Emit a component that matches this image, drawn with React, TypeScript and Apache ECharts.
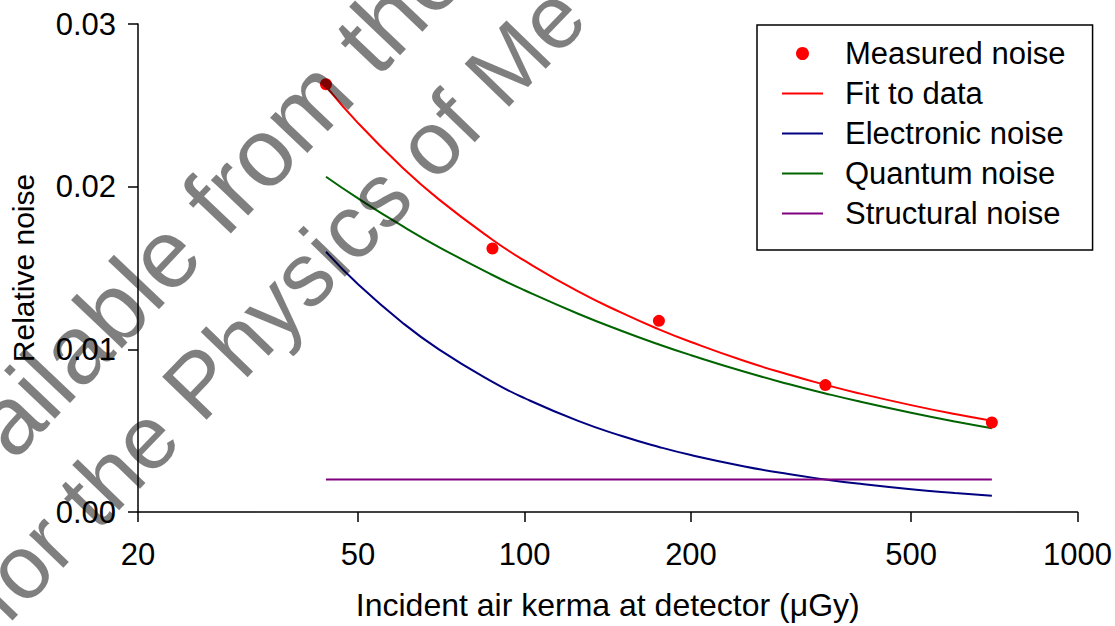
import React, { useEffect, useRef } from "react";
import * as echarts from "echarts";

// Incident air kerma (µGy) of the measured points
const measuredKerma = [43.75, 87.5, 175, 350, 700];
const measuredNoise = [0.0263, 0.0162, 0.01175, 0.0078, 0.0055];

const curveKerma = [43.75, 50, 60, 70, 87.5, 100, 125, 150, 175, 200, 250, 300, 350, 400, 500, 600, 700];
const fitNoise = [0.02617, 0.02391, 0.02121, 0.01922, 0.01674, 0.01545, 0.01356, 0.01224, 0.01123, 0.01045, 0.00928, 0.00845, 0.00782, 0.00732, 0.00657, 0.00602, 0.00561];
const electronicNoise = [0.016, 0.014, 0.01167, 0.01, 0.008, 0.007, 0.0056, 0.00467, 0.004, 0.0035, 0.0028, 0.00233, 0.002, 0.00175, 0.0014, 0.00117, 0.001];
const quantumNoise = [0.02061, 0.01928, 0.0176, 0.01629, 0.01457, 0.01363, 0.01219, 0.01113, 0.0103, 0.00964, 0.00862, 0.00787, 0.00729, 0.00682, 0.0061, 0.00556, 0.00515];
const structuralKerma = [43.75, 700];
const structuralNoise = [0.002, 0.002];

const xTicks = [20, 50, 100, 200, 500, 1000];
const seriesNames = ["Measured noise", "Fit to data", "Electronic noise", "Quantum noise", "Structural noise"];
const watermarkLines = ["vailable from the", "for the Physics of Me"];

const FONT = '"Liberation Sans", Arial, sans-serif';

const pairs = (xs: number[], ys: number[]) => xs.map((x, i) => [x, ys[i]]);

export default function App() {
  const ref = useRef<HTMLDivElement>(null);
  useEffect(() => {
    if (!ref.current) return;
    const chart = echarts.init(ref.current, null, { renderer: "svg" });
    const lineBase = (name: string, data: number[][], color: string) => ({
      name,
      type: "line",
      data,
      smooth: true,
      symbol: "none",
      showSymbol: false,
      lineStyle: { color, width: 2 },
      itemStyle: { color, opacity: 0 },
      z: 2,
    });
    chart.setOption({
      animation: false,
      backgroundColor: "#ffffff",
      textStyle: { fontFamily: FONT },
      grid: { left: 133, right: 37, top: 24, bottom: 110, containLabel: false },
      xAxis: {
        type: "log",
        logBase: 10,
        min: 20,
        max: 1000,
        name: "Incident air kerma at detector (\u03bcGy)",
        nameLocation: "middle",
        nameGap: 77,
        nameTextStyle: { fontSize: 32, color: "#000", fontFamily: FONT },
        axisLine: { show: true, onZero: false, lineStyle: { color: "#000", width: 1.5 } },
        axisTick: { show: true, length: 10, customValues: xTicks, lineStyle: { color: "#000", width: 1.5 } },
        axisLabel: {
          customValues: xTicks,
          formatter: (v: number) => String(Math.round(v)),
          fontSize: 31,
          color: "#000",
          margin: 27,
          fontFamily: FONT,
        },
        splitLine: { show: false },
        minorTick: { show: false },
      },
      yAxis: {
        type: "value",
        min: 0,
        max: 0.03,
        interval: 0.01,
        name: "Relative noise",
        nameLocation: "middle",
        nameGap: 100,
        nameTextStyle: { fontSize: 30, color: "#000", fontFamily: FONT },
        axisLine: { show: true, onZero: false, lineStyle: { color: "#000", width: 1.5 } },
        axisTick: { show: true, length: 10, lineStyle: { color: "#000", width: 1.5 } },
        axisLabel: {
          formatter: (v: number) => v.toFixed(2),
          fontSize: 31,
          color: "#000",
          margin: 22,
          fontFamily: FONT,
        },
        splitLine: { show: false },
      },
      legend: {
        orient: "vertical",
        left: 757,
        top: 25,
        itemWidth: 41,
        itemHeight: 13,
        itemGap: 9,
        padding: [13, 27, 21, 24],
        borderColor: "#000",
        borderWidth: 1.5,
        backgroundColor: "#fff",
        data: seriesNames,
        textStyle: { fontSize: 31, lineHeight: 30, color: "#000", fontFamily: FONT, padding: [0, 0, 0, 17] },
      },
      series: [
        lineBase(seriesNames[1], pairs(curveKerma, fitNoise), "#ff0000"),
        lineBase(seriesNames[2], pairs(curveKerma, electronicNoise), "#000080"),
        lineBase(seriesNames[3], pairs(curveKerma, quantumNoise), "#006400"),
        lineBase(seriesNames[4], pairs(structuralKerma, structuralNoise), "#800080"),
        {
          name: seriesNames[0],
          type: "scatter",
          data: pairs(measuredKerma, measuredNoise),
          symbol: "circle",
          symbolSize: 12,
          itemStyle: { color: "#ff0000", opacity: 1 },
          z: 5,
        },
      ],
      graphic: [
        {
          type: "text",
          x: -9,
          y: 508,
          rotation: (46.5 * Math.PI) / 180,
          z: 100,
          silent: true,
          style: { text: watermarkLines[0], font: `97px ${FONT}`, fill: "rgba(0,0,0,0.5)", align: "left", verticalAlign: "bottom" },
        },
        {
          type: "text",
          x: 17,
          y: 636,
          rotation: (46 * Math.PI) / 180,
          z: 100,
          silent: true,
          style: { text: watermarkLines[1], font: `90px ${FONT}`, fill: "rgba(0,0,0,0.5)", align: "left", verticalAlign: "bottom" },
        },
      ],
    });
    return () => chart.dispose();
  }, []);
  return <div ref={ref} style={{ position: "absolute", left: 0, top: 0, width: 1115, height: 626 }} />;
}
